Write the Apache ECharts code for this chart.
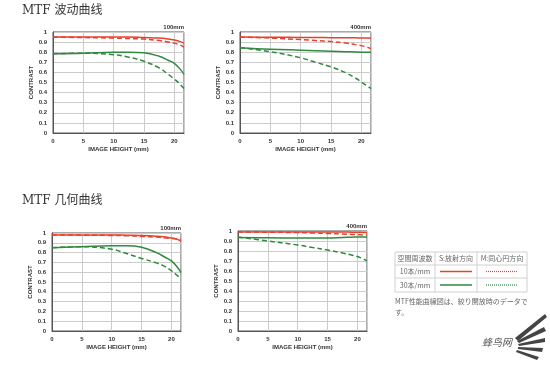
<!DOCTYPE html>
<html>
<head>
<meta charset="utf-8">
<script src="https://cdn.jsdelivr.net/npm/echarts@6/dist/echarts.min.js"></script>
<style>
  html, body { margin: 0; padding: 0; background: #fff; }
  #main { width: 550px; height: 366px; }
</style>
</head>
<body>
<div id="main"></div>
<script>
// 像高 (mm)
var heights = [0, 5, 10, 12.5, 15, 17.5, 19, 20, 21, 21.6];

// MTF 波动曲线 100mm
var wave100_10S = [0.95, 0.95, 0.95, 0.95, 0.945, 0.94, 0.93, 0.92, 0.905, 0.89];
var wave100_10M = [0.95, 0.945, 0.94, 0.935, 0.93, 0.915, 0.9, 0.89, 0.87, 0.85];
var wave100_30S = [0.785, 0.79, 0.8, 0.8, 0.795, 0.76, 0.72, 0.69, 0.63, 0.58];
var wave100_30M = [0.785, 0.79, 0.775, 0.75, 0.71, 0.645, 0.58, 0.535, 0.48, 0.44];

// MTF 波动曲线 400mm
var wave400_10S = [0.95, 0.948, 0.946, 0.945, 0.944, 0.943, 0.942, 0.941, 0.94, 0.94];
var wave400_10M = [0.95, 0.94, 0.925, 0.915, 0.905, 0.89, 0.875, 0.865, 0.85, 0.835];
var wave400_30S = [0.845, 0.83, 0.82, 0.815, 0.81, 0.805, 0.803, 0.8, 0.8, 0.8];
var wave400_30M = [0.845, 0.805, 0.745, 0.7, 0.655, 0.595, 0.545, 0.505, 0.465, 0.44];

// MTF 几何曲线 100mm
var geo100_10S = [0.98, 0.98, 0.98, 0.978, 0.975, 0.968, 0.96, 0.95, 0.935, 0.915];
var geo100_10M = [0.98, 0.978, 0.975, 0.972, 0.965, 0.958, 0.95, 0.945, 0.94, 0.935];
var geo100_30S = [0.85, 0.86, 0.87, 0.87, 0.855, 0.8, 0.75, 0.715, 0.65, 0.595];
var geo100_30M = [0.85, 0.86, 0.835, 0.79, 0.74, 0.695, 0.655, 0.615, 0.565, 0.53];

// MTF 几何曲线 400mm
var geo400_10S = [0.99, 0.99, 0.99, 0.99, 0.99, 0.99, 0.988, 0.987, 0.986, 0.985];
var geo400_10M = [0.99, 0.988, 0.984, 0.98, 0.975, 0.97, 0.966, 0.963, 0.96, 0.958];
var geo400_30S = [0.935, 0.932, 0.93, 0.93, 0.93, 0.935, 0.938, 0.94, 0.94, 0.94];
var geo400_30M = [0.94, 0.9, 0.86, 0.835, 0.81, 0.78, 0.76, 0.745, 0.72, 0.7];

var focalLabels = ["100mm", "400mm", "100mm", "400mm"];
var sectionTitles = ["MTF 波动曲线", "MTF 几何曲线"];
var tableHead = ["空間周波数", "S:放射方向", "M:同心円方向"];
var tableRows = ["10本/mm", "30本/mm"];
var noteLines = ["MTF性能曲線図は、絞り開放時のデータで", "す。"];

var RED = "#e8402e";
var GREEN = "#2f8a3f";

var grids = [
  { left: 53, top: 32, width: 131, height: 101 },
  { left: 240, top: 32, width: 131, height: 101 },
  { left: 52, top: 233, width: 129, height: 98 },
  { left: 238, top: 231, width: 129, height: 100 },
];

var chartData = [
  [wave100_10S, wave100_10M, wave100_30S, wave100_30M],
  [wave400_10S, wave400_10M, wave400_30S, wave400_30M],
  [geo100_10S, geo100_10M, geo100_30S, geo100_30M],
  [geo400_10S, geo400_10M, geo400_30S, geo400_30M],
];

function pairs(values) {
  return heights.map(function (h, i) { return [h, values[i]]; });
}

var tickFont = { fontSize: 6, fontWeight: "bold", color: "#333", fontFamily: "Arial, Liberation Sans" };

var xAxis = [], yAxis = [], series = [];
grids.forEach(function (g, i) {
  g.show = true;
  g.borderColor = "#555";
  g.borderWidth = 1;
  xAxis.push({
    gridIndex: i, type: "value", min: 0, max: 21.6, interval: 5,
    name: "IMAGE HEIGHT (mm)", nameLocation: "middle", nameGap: 13,
    nameTextStyle: tickFont,
    axisLine: { lineStyle: { color: "#555" } },
    axisTick: { show: false },
    axisLabel: Object.assign({ margin: 5, showMaxLabel: false }, tickFont),
    splitLine: { lineStyle: { color: "#ccc" } },
  });
  yAxis.push({
    gridIndex: i, type: "value", min: 0, max: 1, interval: 0.1,
    name: "CONTRAST", nameLocation: "middle", nameGap: 18,
    nameTextStyle: tickFont,
    axisLine: { lineStyle: { color: "#555" } },
    axisTick: { show: false },
    axisLabel: Object.assign({
      margin: 6,
      formatter: function (v) {
        var r = Math.round(v * 10) / 10;
        return r === 0 || r === 1 ? String(r) : r.toFixed(1);
      },
    }, tickFont),
    splitLine: { lineStyle: { color: "#ccc" } },
  });
  var styles = [
    { color: RED, type: "solid" },
    { color: RED, type: [5, 3] },
    { color: GREEN, type: "solid" },
    { color: GREEN, type: [5, 3] },
  ];
  chartData[i].forEach(function (vals, k) {
    series.push({
      type: "line", xAxisIndex: i, yAxisIndex: i,
      data: pairs(vals), smooth: 0.4, symbol: "none",
      lineStyle: { color: styles[k].color, width: 1.5, type: styles[k].type },
      z: 4 - k,
    });
  });
});

var txt = { fill: "#666", fontSize: 7, fontFamily: "Noto Sans CJK JP" };

var graphic = [
  { type: "text", left: 22, top: 5, style: { text: sectionTitles[0], fill: "#333", fontSize: 12, fontFamily: "DejaVu Serif, Noto Sans CJK SC" } },
  { type: "text", left: 22, top: 195, style: { text: sectionTitles[1], fill: "#333", fontSize: 12, fontFamily: "DejaVu Serif, Noto Sans CJK SC" } },
];

grids.forEach(function (g, i) {
  graphic.push({
    type: "text", x: g.left + g.width, y: g.top - 2,
    style: { text: focalLabels[i], fill: "#333", fontSize: 6, fontWeight: "bold", fontFamily: "Arial", align: "right", verticalAlign: "bottom" },
  });
});

// 表格
var tx = [395, 435, 477, 527];
var ty = [252, 265, 278, 292];
var tableLine = { stroke: "#d0d0d0", lineWidth: 1 };
tx.forEach(function (x) {
  graphic.push({ type: "line", shape: { x1: x, y1: ty[0], x2: x, y2: ty[3] }, style: tableLine });
});
ty.forEach(function (y) {
  graphic.push({ type: "line", shape: { x1: tx[0], y1: y, x2: tx[3], y2: y }, style: tableLine });
});
tableHead.forEach(function (t, i) {
  graphic.push({ type: "text", x: (tx[i] + tx[i + 1]) / 2, y: (ty[0] + ty[1]) / 2, style: Object.assign({ text: t, align: "center", verticalAlign: "middle" }, txt) });
});
tableRows.forEach(function (t, r) {
  var cy = (ty[r + 1] + ty[r + 2]) / 2;
  var c = r === 0 ? RED : GREEN;
  graphic.push({ type: "text", x: (tx[0] + tx[1]) / 2, y: cy, style: Object.assign({ text: t, align: "center", verticalAlign: "middle" }, txt) });
  graphic.push({ type: "line", shape: { x1: 440, y1: cy, x2: 472, y2: cy }, style: { stroke: c, lineWidth: 1.5 } });
  graphic.push({ type: "line", shape: { x1: 486, y1: cy, x2: 518, y2: cy }, style: { stroke: c, lineWidth: 1.2, lineDash: [1, 1] } });
});
noteLines.forEach(function (t, i) {
  graphic.push({ type: "text", x: 395, y: 298 + i * 11, style: Object.assign({ text: t }, txt) });
});

// 水印
graphic.push({ type: "text", x: 482, y: 337, style: { text: "蜂鸟网", fill: "#555", fontSize: 10, fontStyle: "italic", fontFamily: "Noto Sans CJK SC" } });
var wings = [
  [[515, 338], [545, 314], [547, 317], [518, 341]],
  [[517, 341], [544, 327], [546, 331], [519, 343]],
  [[518, 344], [545, 338], [545, 342], [519, 346]],
  [[518, 347], [543, 348], [542, 352], [518, 349]],
  [[517, 350], [539, 357], [537, 360], [516, 352]],
];
wings.forEach(function (p) {
  graphic.push({ type: "polygon", shape: { points: p }, style: { fill: "#444" } });
});

var myChart = echarts.init(document.getElementById("main"));
myChart.setOption({
  backgroundColor: "#fff",
  animation: false,
  grid: grids,
  xAxis: xAxis,
  yAxis: yAxis,
  series: series,
  graphic: graphic,
});
</script>
</body>
</html>
